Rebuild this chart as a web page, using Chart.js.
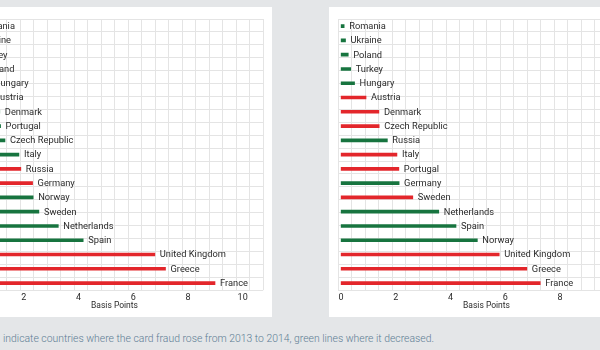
<!DOCTYPE html>
<html><head><meta charset="utf-8">
<script src="https://cdn.jsdelivr.net/npm/chart.js@4.4.1/dist/chart.umd.min.js"></script>
<style>
html,body{margin:0;padding:0;}
body{width:600px;height:350px;overflow:hidden;background:#e4e6e8;position:relative;font-family:Roboto,sans-serif;}
.card{position:absolute;top:7px;width:315px;height:310px;background:#fff;}
#cardL{left:-43px;}
#cardR{left:329px;}
.card canvas{display:block;}
#caption{position:absolute;left:3px;top:332px;font-size:10.4px;font-weight:300;color:#5d7d94;white-space:nowrap;}
</style></head><body>
<div class="card" id="cardL"><canvas id="chartL" width="315" height="310"></canvas></div>
<div class="card" id="cardR"><canvas id="chartR" width="315" height="310"></canvas></div>
<div id="caption"></div>
<script>
// ---- data ----
const leftCountries = ['Romania','Ukraine','Turkey','Poland','Hungary','Austria','Denmark','Portugal','Czech Republic','Italy','Russia','Germany','Norway','Sweden','Netherlands','Spain','United Kingdom','Greece','France'];
const leftValues = [0.15,0.21,0.22,0.42,0.72,0.73,1.12,1.15,1.31,1.82,1.89,2.32,2.34,2.55,3.26,4.17,6.79,7.18,8.99];
const leftChange = ['fell','fell','fell','fell','fell','fell','fell','fell','fell','fell','rose','rose','fell','fell','fell','fell','rose','rose','rose'];

const rightCountries = ['Romania','Ukraine','Poland','Turkey','Hungary','Austria','Denmark','Czech Republic','Russia','Italy','Portugal','Germany','Sweden','Netherlands','Spain','Norway','United Kingdom','Greece','France'];
const rightValues = [0.11,0.16,0.26,0.35,0.49,0.91,1.38,1.39,1.69,2.04,2.11,2.12,2.62,3.57,4.20,4.98,5.78,6.79,7.28];
const rightChange = ['fell','fell','fell','fell','fell','rose','rose','rose','fell','rose','rose','fell','rose','fell','fell','fell','rose','rose','rose'];

const xTicks = [0,2,4,6,8,10];
const axisTitle = 'Basis Points';
const captionText = 'indicate countries where the card fraud rose from 2013 to 2014, green lines where it decreased.';

// ---- styling ----
const RED = '#e3262b', GREEN = '#17743f', GRID = '#e4e4e4', TEXT = '#2b2b2b';
document.getElementById('caption').textContent = captionText;

const endLabels = {
  id: 'endLabels',
  afterDatasetsDraw(chart) {
    const ctx = chart.ctx;
    const meta = chart.getDatasetMeta(0);
    ctx.save();
    ctx.font = '9.3px Roboto';
    ctx.fillStyle = TEXT;
    ctx.textBaseline = 'middle';
    ctx.textAlign = 'left';
    meta.data.forEach((bar, i) => {
      ctx.fillText(chart.data.labels[i], bar.x + 5, bar.y + 0.5);
    });
    ctx.restore();
  }
};

function makeChart(id, labels, values, change) {
  return new Chart(document.getElementById(id), {
    type: 'bar',
    data: {
      labels: labels,
      datasets: [{
        data: values,
        backgroundColor: change.map(c => c === 'rose' ? RED : GREEN),
        barThickness: 3,
        borderWidth: 0
      }]
    },
    options: {
      indexAxis: 'y',
      responsive: false,
      animation: false,
      devicePixelRatio: 1,
      layout: { padding: { left: 9, right: 9, top: 12, bottom: 6.7 } },
      plugins: { legend: { display: false }, tooltip: { enabled: false } },
      scales: {
        x: {
          type: 'linear', position: 'bottom', min: -0.115, max: 10.745,
          grid: { display: false, drawTicks: false }, border: { display: false },
          afterBuildTicks: s => { s.ticks = xTicks.map(v => ({ value: v })); },
          ticks: { font: { family: 'Roboto', size: 9, lineHeight: 1 }, color: TEXT, padding: 3, maxRotation: 0, autoSkip: false },
          title: { display: true, text: axisTitle, font: { family: 'Roboto', size: 8.5, lineHeight: 1 }, color: TEXT, padding: { top: -3.4, bottom: 0 } }
        },
        xg: {
          type: 'linear', position: 'top', min: 0, max: 22,
          ticks: { display: false, stepSize: 1 },
          grid: { color: GRID, drawTicks: false, lineWidth: 1 }, border: { display: false }
        },
        y: { type: 'category', display: false, offset: true, grid: { display: false } },
        yg: {
          type: 'linear', position: 'left', min: 0, max: 20,
          ticks: { display: false, stepSize: 1 },
          grid: { color: GRID, drawTicks: false, lineWidth: 1 }, border: { display: false }
        }
      }
    },
    plugins: [endLabels]
  });
}

makeChart('chartL', leftCountries, leftValues, leftChange);
makeChart('chartR', rightCountries, rightValues, rightChange);
</script>
</body></html>
